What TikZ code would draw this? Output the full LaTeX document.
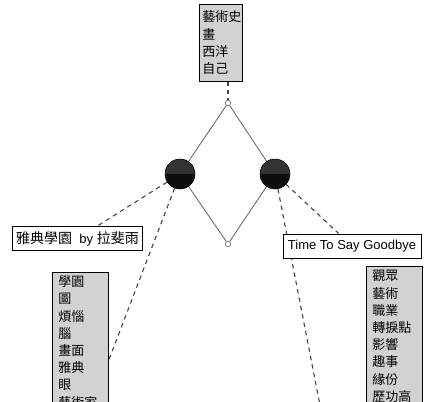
\documentclass[tikz,border=0pt]{standalone}
\usepackage{fontspec}
\usetikzlibrary{calc}
\setmainfont{Liberation Sans}
\newfontfamily\cjk{Noto Sans CJK TC}
\definecolor{boxgray}{RGB}{210,210,210}
\definecolor{edgegray}{RGB}{110,110,110}
\definecolor{dashgray}{RGB}{70,70,70}
\pgfdeclarelayer{bg}
\pgfsetlayers{bg,main}
\begin{document}
\begin{tikzpicture}[x=1pt,y=-1pt,
  listbox/.style={draw=black, line width=0.8pt, fill=boxgray, align=left, anchor=north west,
    font=\cjk\fontsize{13}{17.2}\selectfont, inner xsep=5pt, inner ysep=3.5pt, text width=#1},
  labelbox/.style={draw=black, line width=0.8pt, fill=white, inner xsep=5pt, inner ysep=6pt,
    font=\fontsize{13}{15}\selectfont},
  bigdot/.style={circle, minimum size=30pt, inner sep=0pt, fill=black!95, draw=black,
    line width=0.5pt,
    path picture={\fill[black!80] (path picture bounding box.north west) rectangle (path picture bounding box.east);}},
  smalldot/.style={circle, draw=edgegray, fill=white, minimum size=5.5pt, inner sep=0pt, line width=0.7pt},
  edgeline/.style={draw=edgegray, line width=0.9pt},
  dashlink/.style={draw=dashgray, line width=1.1pt, dash pattern=on 4.5pt off 4pt}]
\useasboundingbox (0,0) rectangle (430,401);
\clip (0,0) rectangle (430,401);

% nodes
\node[listbox=37pt, inner xsep=3pt, inner ysep=6.5pt] (topbox) at (199,4) {藝術史\\畫\\西洋\\自己};
\node[smalldot] (st) at (228,103) {};
\node[smalldot] (sb) at (228,244) {};
\node[bigdot] (bl) at (180,174) {};
\node[bigdot] (br) at (275,174) {};
\node[labelbox, inner xsep=4pt, inner ysep=5pt] (llab) at (77.5,238.5) {{\cjk\fontsize{14}{15}\selectfont 雅典學園}\ \ by {\cjk\fontsize{14}{15}\selectfont 拉斐雨}};
\node[labelbox] (rlab) at (352,246) {Time To Say Goodbye};
\node[listbox=44pt, inner xsep=6pt] (llist) at (52,272) {學園\\圖\\煩惱\\腦\\畫面\\雅典\\眼\\藝術家};
\node[listbox=44pt, inner xsep=6pt] (rlist) at (366,266) {觀眾\\藝術\\職業\\轉捩點\\影響\\趣事\\緣份\\歷功高};
\coordinate (offb) at (325,431);

\begin{pgfonlayer}{bg}
\clip (0,0) rectangle (430,401);
\fill[white] (0,0) rectangle (430,401);
% diamond
\draw[edgeline] (st) -- (bl);
\draw[edgeline] (st) -- (br);
\draw[edgeline] (bl) -- (sb);
\draw[edgeline] (br) -- (sb);
% dashed links
\draw[dashlink] (topbox.south -| st) -- (st);
\draw[dashlink] (bl) -- (llab);
\draw[dashlink] (bl) -- ($(llist.north east)+(0,88)$);
\draw[dashlink] (br) -- (rlab);
\draw[dashlink] (br) -- (offb);
\end{pgfonlayer}
\end{tikzpicture}
\end{document}
